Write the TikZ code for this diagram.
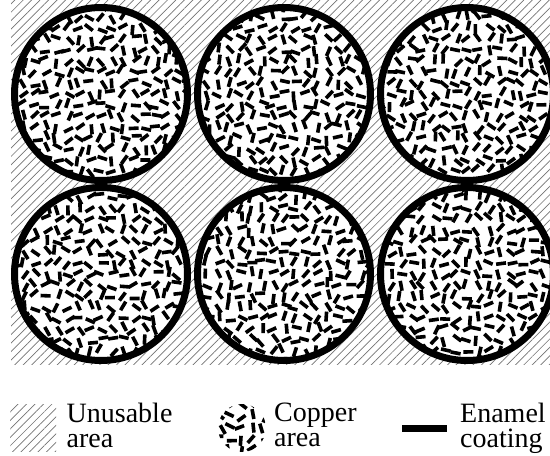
\documentclass[tikz,border=0pt]{standalone}
\usepackage{fontspec}
\setmainfont{Liberation Serif}
\usetikzlibrary{patterns.meta}

\tikzset{
  hatch/.style={pattern={Lines[angle=45,distance=6pt,line width=.7pt]},pattern color=black!55},
  cudash/.style={line width=3.6pt},
  wire/.style={circle,draw,inner sep=0pt,line width=7pt,minimum size=173pt},
  legtext/.style={anchor=north west,inner sep=0pt,align=left,font=\fontsize{28}{24.5}\selectfont}
}

\begin{document}
\begin{tikzpicture}[x=1pt,y=-1pt]
\useasboundingbox (0,0) rectangle (550,456);
\pgfmathsetseed{4711}
% unusable space between the wires
\fill[hatch] (11,0) rectangle (550,364);
% the six wires, copper first, enamel on top
\foreach \cx/\cy [count=\k] in {101/94,284/94,467/94,101/274,284/274,467/274}{
  \begin{scope}
    \clip (\cx,\cy) circle (86.5);
    \fill[white] (\cx,\cy) circle (86.5);
    \foreach \i in {-8,...,8}{\foreach \j in {-8,...,8}{
      \pgfmathsetmacro{\px}{\cx+\i*11+3*rand}
      \pgfmathsetmacro{\py}{\cy+\j*11+3*rand}
      \pgfmathsetmacro{\ang}{180*rnd}
      \draw[cudash] (\px,\py) ++(\ang:5) -- ++(\ang+180:10);
    }}
  \end{scope}
  \node[wire] (w\k) at (\cx,\cy) {};
}
% legend
\node[hatch,inner sep=0pt,minimum width=46pt,minimum height=47pt] (unusableKey) at (33,428) {};
\node[legtext] (unusable) at (66.5,403) {Unusable\\area};
\begin{scope}
  \clip (242,428) circle (24);
  \foreach \i in {-2,...,2}{\foreach \j in {-2,...,2}{
    \pgfmathsetmacro{\px}{242+\i*11+3*rand}
    \pgfmathsetmacro{\py}{428+\j*11+3*rand}
    \pgfmathsetmacro{\ang}{180*rnd}
    \draw[cudash] (\px,\py) ++(\ang:5) -- ++(\ang+180:10);
  }}
\end{scope}
\node[legtext] (copperTxt) at (274,403) {Copper\\area};
\coordinate (enamelA) at (402,428.5);
\coordinate (enamelB) at (447,428.5);
\draw[line width=7pt] (enamelA) -- (enamelB);
\node[legtext] (enamel) at (460,403) {Enamel\\coating};
\end{tikzpicture}
\end{document}
